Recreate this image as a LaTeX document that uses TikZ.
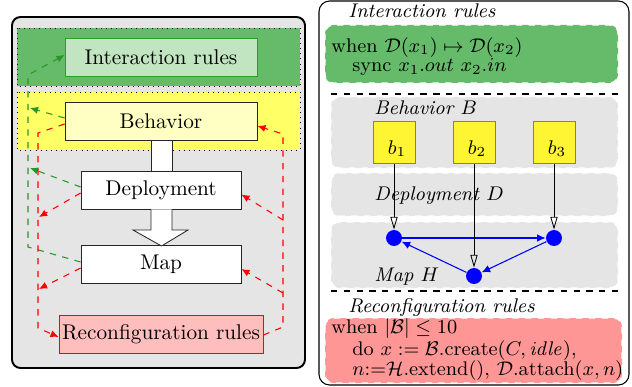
\RequirePackage{fix-cm}
\documentclass[tikz,border=0pt]{standalone}
\usetikzlibrary{arrows.meta,calc}
\definecolor{gfill}{RGB}{102,187,106}
\definecolor{glight}{RGB}{193,228,193}
\definecolor{gline}{RGB}{40,160,40}
\definecolor{gdash}{RGB}{40,150,40}
\definecolor{yfill}{RGB}{255,255,102}
\definecolor{ylight}{RGB}{255,255,195}
\definecolor{rlight}{RGB}{255,190,190}
\definecolor{rfill}{RGB}{255,150,150}
\definecolor{panel}{RGB}{229,229,229}
\definecolor{bborder}{RGB}{190,110,40}
\newcommand{\rsz}{\fontsize{9.3pt}{11pt}\selectfont}
\tikzset{
  leftbox/.style={draw=black!85, inner sep=0pt, minimum height=17.6pt},
  gdashline/.style={draw=gdash, dashed, line width=0.5pt},
  rdashline/.style={draw=red, dashed, line width=0.5pt},
  tip/.style={-{Latex[length=3.8pt,width=3.4pt]}},
  softbox/.style={draw=white, dashed, line width=0.6pt, rounded corners=4pt},
  ttl/.style={anchor=base west, inner sep=0pt, font=\rsz\itshape},
  txt/.style={anchor=base west, inner sep=0pt, font=\rsz},
  bbox/.style={draw=bborder, fill=yellow!80, minimum size=19.7pt, inner sep=0pt},
  bnode/.style={circle, fill=blue, inner sep=0pt, minimum size=7.5pt},
  opentip/.style={-{Triangle[open,length=6pt,width=3.4pt]}},
  bluetip/.style={draw=blue, line width=0.5pt, -{Latex[length=4pt,width=3.6pt]}},
}
\begin{document}
\begin{tikzpicture}[x=0.47pt,y=-0.47pt]
\useasboundingbox (0,0) rectangle (632,387);
% ---------- left panel ----------
\draw[line width=0.9pt, fill=panel, rounded corners=4pt] (12,17) rectangle (305,368);
\draw[dotted, fill=gfill] (17,28) rectangle (300,86);
\draw[dotted, fill=yfill] (17,92) rectangle (300,150);
\node[leftbox, draw=gline, fill=glight, minimum width=90.2pt, minimum height=17.9pt] (ir) at (161,57) {Interaction rules};
\node[leftbox, fill=ylight, minimum width=90.2pt, minimum height=17.9pt] (beh) at (161,121) {Behavior};
\node[leftbox, fill=white, minimum width=75.2pt] (dep) at (161,190.5) {Deployment};
\node[leftbox, fill=white, minimum width=75.2pt] (map) at (161,264.5) {Map};
\node[leftbox, draw=red, fill=rlight, minimum width=95.9pt] (rec) at (161,334.5) {Reconfiguration rules};
% block arrows
\draw[draw=black!85, fill=white] (151,140.4) rectangle (172,171.6);
\draw[draw=black!85, fill=white] (151,209.4) -- (151,230) -- (133,230) -- (161.5,246) -- (188,230) -- (172,230) -- (172,209.4);
% green connectors
\coordinate (g1) at (28,247);
\coordinate (g2) at (28,75);
\coordinate (g3) at (30,108);
\coordinate (g4) at (30,168);
\draw[gdashline, tip] ($(map.west)+(0,-2.5)$) -- (g1) -- (g2) -- ($(ir.west)+(0,-2)$);
\draw[gdashline, tip] ($(beh.west)+(0,-3)$) -- (g3);
\draw[gdashline, tip] ($(dep.west)+(0,-3.5)$) -- (g4);
% red connectors left
\coordinate (r1) at (38,133);
\coordinate (r2) at (38,328);
\coordinate (r3) at (39,217);
\coordinate (r4) at (39,289);
\draw[rdashline, tip] ($(beh.west)+(0,3)$) -- (r1) -- (r2) -- ($(rec.west)+(0,2.5)$);
\draw[rdashline, tip] ($(dep.west)+(0,2.5)$) -- (r3);
\draw[rdashline, tip] ($(map.west)+(0,3.5)$) -- (r4);
% red connectors right
\coordinate (s1) at (283,327);
\coordinate (s2) at (283,134);
\coordinate (s3) at (283,220);
\coordinate (s4) at (283,293);
\draw[rdashline, tip] ($(rec.east)+(0,0.5)$) -- (s1) -- (s2) -- ($(beh.east)+(0,5)$);
\draw[rdashline, tip] (s3) -- ($(dep.east)+(0,4)$);
\draw[rdashline, tip] (s4) -- ($(map.east)+(0,4.5)$);
% ---------- right panel ----------
\draw[line width=0.5pt, rounded corners=5pt] (319,1) rectangle (629,385);
\node[ttl] (tir) at (348,18) {Interaction rules};
\draw[softbox, fill=gfill] (325,25) rectangle (618,83);
\node[txt] (w1) at (331,52.5) {when $\mathcal{D}(x_1)\mapsto\mathcal{D}(x_2)$};
\node[txt] (w2) at (352,72) {sync $x_1.out$ $x_2.in$};
\draw[dashed, line width=0.5pt] (331,94) -- (618,94);
\draw[softbox, fill=panel] (331,97) rectangle (618,168);
\draw[softbox, fill=panel] (331,173) rectangle (618,216);
\draw[softbox, fill=panel] (331,222) rectangle (618,288);
\node[ttl] (tb) at (374,115) {Behavior $B$};
\node[ttl] (td) at (374,200) {Deployment $D$};
\node[ttl] (tm) at (374,281) {Map $H$};
\node[bbox] (b1) at (394,142.5) {};
\node[bbox] (b2) at (474,142.5) {};
\node[bbox] (b3) at (554,142.5) {};
\node[font=\rsz] (b1t) at (397,149) {$b_1$};
\node[font=\rsz] (b2t) at (477,149) {$b_2$};
\node[font=\rsz] (b3t) at (557,149) {$b_3$};
\node[bnode] (n1) at (394,238) {};
\node[bnode] (n2) at (554,238) {};
\node[bnode] (n3) at (474,276) {};
\draw[bluetip] (n1) -- (n2);
\draw[bluetip] (n3) -- (n1);
\draw[bluetip] (n2) -- (n3);
\draw[opentip] (b1.south) -- (n1.north);
\draw[opentip] (b2.south) -- (n3.north);
\draw[opentip] (b3.south) -- (n2.north);
\draw[dashed, line width=0.5pt] (331,291) -- (618,291);
\node[ttl] (trr) at (348,312) {Reconfiguration rules};
\draw[softbox, fill=rfill] (325,318) rectangle (622,383);
\node[txt] (c1) at (331,333) {when $|\mathcal{B}|\leq 10$};
\node[txt] (c2) at (352,355) {do $x := \mathcal{B}$.create$(C, \mathit{idle})$,};
\node[txt] (c3) at (352,375) {$n$:=$\mathcal{H}$.extend(), $\mathcal{D}$.attach$(x,n)$};
\end{tikzpicture}
\end{document}
